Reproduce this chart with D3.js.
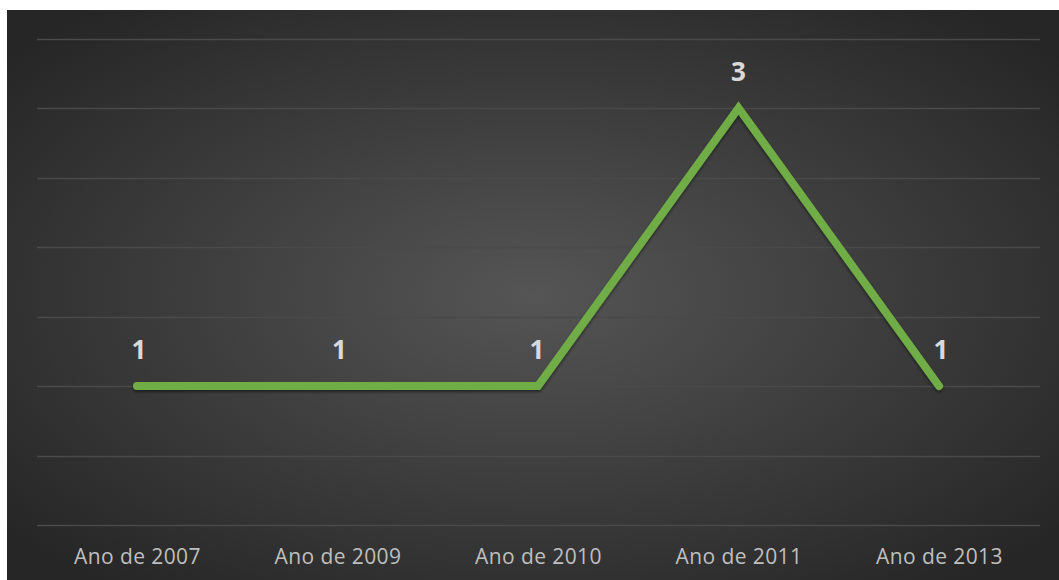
<!DOCTYPE html>
<html><head><meta charset="utf-8">
<script src="https://cdn.jsdelivr.net/npm/d3@7"></script>
<style>html,body{margin:0;padding:0;background:#fff;}svg{display:block;}</style>
</head><body>
<svg id="c" width="1059" height="580"></svg>
<script>
const categories = ["Ano de 2007","Ano de 2009","Ano de 2010","Ano de 2011","Ano de 2013"];
const values = [1,1,1,3,1];
const yTicks = [0,0.5,1,1.5,2,2.5,3,3.5];

const svg = d3.select("#c");
const W = 1059, H = 580;
const defs = svg.append("defs");
const g = defs.append("radialGradient").attr("id","bg").attr("cx","50%").attr("cy","50%").attr("r","65%");
g.append("stop").attr("offset","0%").attr("stop-color","#555555");
g.append("stop").attr("offset","100%").attr("stop-color","#262626");
const f = defs.append("filter").attr("id","sh").attr("x","-5%").attr("y","-20%").attr("width","110%").attr("height","140%");
f.append("feDropShadow").attr("dx",0).attr("dy",2).attr("stdDeviation",1.5).attr("flood-color","#000").attr("flood-opacity",0.5);
svg.append("rect").attr("x",7).attr("y",10).attr("width",W-7).attr("height",H-10).attr("fill","url(#bg)");

const x = d3.scalePoint().domain(categories).range([137,939]);
const y = d3.scaleLinear().domain([0,3.5]).range([525,38.5]);

svg.append("g").selectAll("line").data(yTicks).join("line")
  .attr("x1",37).attr("x2",1040)
  .attr("y1",d=>Math.round(y(d))+0.5).attr("y2",d=>Math.round(y(d))+0.5)
  .attr("stroke","#4a4a4a").attr("stroke-width",1.5);

const line = d3.line().x((d,i)=>x(categories[i])).y(d=>y(d));
svg.append("path").datum(values).attr("d",line)
  .attr("fill","none").attr("stroke","#70ad47").attr("stroke-width",8)
  .attr("stroke-linejoin","miter").attr("stroke-linecap","round")
  .attr("filter","url(#sh)");

svg.append("g").selectAll("text").data(values).join("text")
  .attr("x",(d,i)=>x(categories[i]) + (i===2?-1:(i===3?0:2)))
  .attr("y",d=>y(d)-27)
  .attr("text-anchor","middle")
  .attr("font-family","'Open Sans', 'DejaVu Sans', sans-serif")
  .attr("font-weight","bold").attr("font-size",26)
  .attr("fill","#d9d9d9")
  .text(d=>d);

const xAxis = d3.axisBottom(x).tickSize(0).tickPadding(0);
const ax = svg.append("g").attr("transform","translate(0,564)").call(xAxis);
ax.select(".domain").remove();
ax.selectAll("text")
  .attr("font-family","'Open Sans', sans-serif").attr("font-size",21)
  .attr("letter-spacing","0.4px")
  .attr("fill","#bfbfbf").attr("dy","0");
</script>
</body></html>
